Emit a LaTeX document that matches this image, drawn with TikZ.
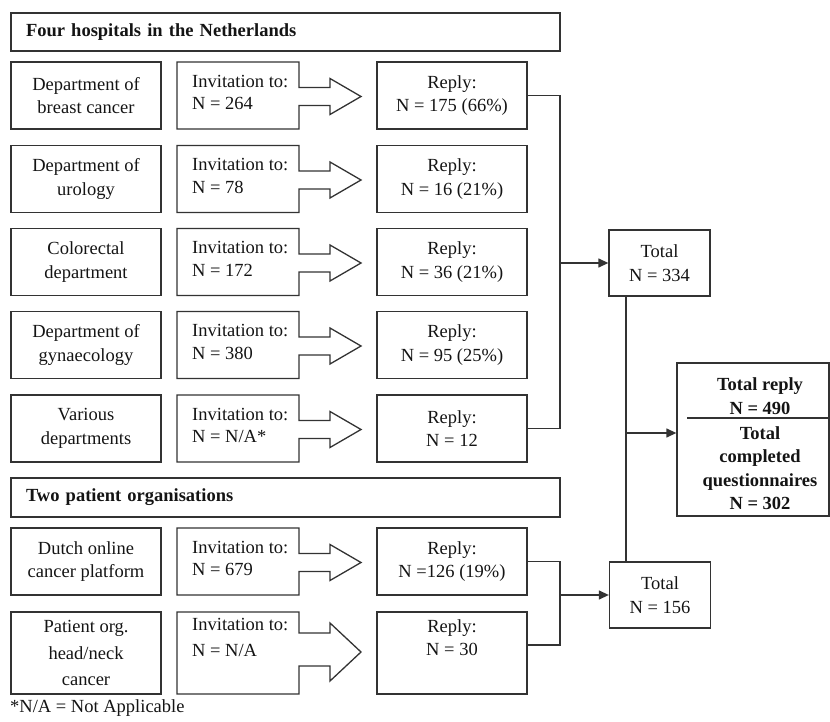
\documentclass[tikz,border=0pt]{standalone}
\usepackage{fontspec}
\setmainfont{Liberation Serif}
\usetikzlibrary{arrows.meta}
\definecolor{lc}{HTML}{333333}
\newcommand{\mycallout}[3]{% top, bottom, tip y
  \draw[boxline] (177,#1) -- (299,#1) -- (299,#3-9) -- (330,#3-9) -- (330,#3-18)
    -- (361,#3) -- (330,#3+18) -- (330,#3+9) -- (299,#3+9) -- (299,#2) -- (177,#2) -- cycle;}
\tikzset{
  every node/.style={font=\fontsize{18.5}{23.5}\selectfont, text=black!92},
  boxline/.style={draw=lc, line width=1.3pt, line join=miter},
  deptbox/.style={boxline, minimum width=150pt, minimum height=#1, inner sep=0pt, align=center},
  replybox/.style={boxline, minimum width=150pt, minimum height=#1, inner sep=0pt, align=center},
  totbox/.style={boxline, minimum width=101pt, minimum height=66pt, inner sep=0pt, align=center},
  headbox/.style={boxline, minimum width=549pt, minimum height=#1, text width=519pt, inner xsep=15pt, inner ysep=0pt, align=left, font=\fontsize{18.5}{23.5}\selectfont\bfseries},
  invtext/.style={anchor=west, align=left, inner sep=0pt, font=\fontsize{18.5}{22.5}\selectfont},
  conn/.style={draw=lc, line width=1.3pt},
  arr/.style={conn, -{Triangle[length=10pt,width=9pt]}},
}
\begin{document}
\begin{tikzpicture}[x=1pt,y=-1pt]
\useasboundingbox (0,0) rectangle (830,722);

% headers
\node[headbox=38pt] (h1) at (285.5,32) {Four hospitals in the Netherlands};
\node[headbox=39pt] (h2) at (285.5,497.5) {Two patient organisations};

% departments
\node[deptbox=67pt] (d1) at (86,95.5) {Department of\\breast cancer};
\node[deptbox=67pt] (d2) at (86,179) {Department of\\urology};
\node[deptbox=67pt] (d3) at (86,262) {Colorectal\\department};
\node[deptbox=67pt] (d4) at (86,345) {Department of\\gynaecology};
\node[deptbox=67pt] (d5) at (86,428.5) {Various\\departments};
\node[deptbox=67pt] (d6) at (86,561.5) {Dutch online\\cancer platform};
\node[deptbox=82pt, font=\fontsize{18.5}{26.5}\selectfont] (d7) at (86,653) {Patient org.\\head/neck\\cancer};

% invitations
\mycallout{62}{129}{96.5}
\node[invtext] (i1) at (192,92.5) {Invitation to:\\N = 264};
\mycallout{145.5}{212.5}{180}
\node[invtext] (i2) at (192,176) {Invitation to:\\N = 78};
\mycallout{228.5}{295.5}{263}
\node[invtext] (i3) at (192,259) {Invitation to:\\N = 172};
\mycallout{311.5}{378.5}{346}
\node[invtext] (i4) at (192,342) {Invitation to:\\N = 380};
\mycallout{395}{462}{429.5}
\node[invtext] (i5) at (192,425.5) {Invitation to:\\N = N/A*};
\mycallout{528}{595}{562.5}
\node[invtext] (i6) at (192,558.5) {Invitation to:\\N = 679};
\draw[boxline] (177,612) -- (299,612) -- (299,633) -- (330,633) -- (330,623)
    -- (361,652) -- (330,681) -- (330,666) -- (299,666) -- (299,694) -- (177,694) -- cycle;
\node[invtext, anchor=north west, font=\fontsize{18.5}{26.5}\selectfont] (i7) at (192,618) {Invitation to:\\N = N/A};

% replies
\node[replybox=67pt] (r1) at (452,95.5) {Reply:\\N = 175 (66\%)};
\node[replybox=67pt] (r2) at (452,179) {Reply:\\N = 16 (21\%)};
\node[replybox=67pt] (r3) at (452,262) {Reply:\\N = 36 (21\%)};
\node[replybox=67pt] (r4) at (452,345) {Reply:\\N = 95 (25\%)};
\node[replybox=67pt] (r5) at (452,428.5) {Reply:\\N = 12};
\node[replybox=67pt] (r6) at (452,561.5) {Reply:\\N =126 (19\%)};
\node[replybox=82pt] (r7) at (452,653) {Reply:\\N = 30\\\strut};

% totals
\node[totbox] (t1) at (659.5,263) {Total\\N = 334};
\node[totbox] (t2) at (660,595) {Total\\N = 156};
\node[boxline, minimum width=152pt, minimum height=153pt, inner sep=0pt] (big) at (753,439.5) {};
\node[align=center, font=\fontsize{18.5}{23.5}\selectfont\bfseries] (bt) at (760,396) {Total reply\\N = 490};
\node[align=center, font=\fontsize{18.5}{23.5}\selectfont\bfseries] (bb) at (760,468) {Total\\completed\\questionnaires\\N = 302};
\coordinate (s1) at (687,418);
\draw[conn] (s1) -- (s1 -| big.east);

% connectors
\coordinate (j1) at (560,95.5);
\coordinate (j5) at (560,428.5);
\coordinate (ja) at (560,263);
\draw[conn] (r1.east) -- (j1) -- (j5) -- (r5.east);
\draw[arr] (ja) -- (t1.west);

\coordinate (j6) at (560,561.5);
\coordinate (j7) at (560,645);
\coordinate (jb) at (560,595);
\draw[conn] (r6.east) -- (j6) -- (j7) -- (j7 -| r7.east);
\draw[arr] (jb) -- (t2.west);

\coordinate (v) at (626,433);
\draw[conn] (t1.south -| v) -- (t2.north -| v);
\draw[arr] (v) -- (v -| big.west);

% footnote
\node[anchor=base west, inner sep=0pt] (foot) at (10,712) {*N/A = Not Applicable};
\end{tikzpicture}
\end{document}
